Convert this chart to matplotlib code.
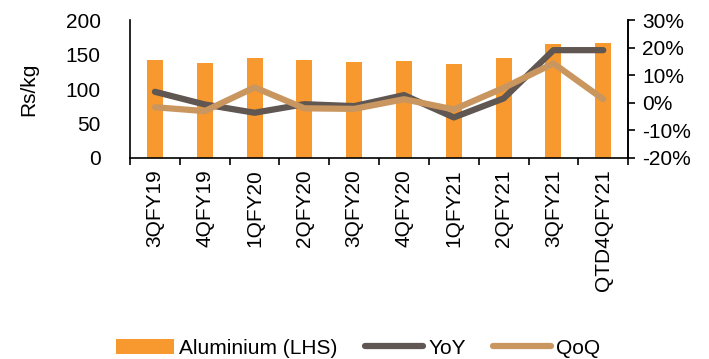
import matplotlib.pyplot as plt
import numpy as np

plt.rcParams['font.family'] = ['Liberation Sans', 'DejaVu Sans']

# Quarterly aluminium price and growth rates
quarters = ['3QFY19', '4QFY19', '1QFY20', '2QFY20', '3QFY20',
            '4QFY20', '1QFY21', '2QFY21', '3QFY21', 'QTD4QFY21']
price = [141.5, 137.7, 145.4, 142.5, 139.0, 140.6, 137.0, 144.5, 166.0, 167.5]
yoy = [4.0, -0.6, -3.6, -0.5, -1.2, 2.8, -5.3, 1.6, 19.1, 19.1]
qoq = [-1.6, -3.0, 5.6, -2.0, -2.2, 1.3, -2.4, 5.4, 14.3, 1.3]

bar_color = '#F7992F'
yoy_color = '#605652'
qoq_color = '#C99660'

fig = plt.figure(figsize=(7.09, 3.59), dpi=100)
ax = fig.add_axes([0.1834, 0.56, 0.7026, 0.384])
ax2 = ax.twinx()

x = np.arange(len(quarters))
ax.bar(x, price, width=0.32, color=bar_color, label='Aluminium (LHS)', zorder=2)
ax2.plot(x, yoy, color=yoy_color, lw=4.5, solid_capstyle='round', label='YoY')
ax2.plot(x, qoq, color=qoq_color, lw=4.5, solid_capstyle='round', label='QoQ')

ax.set_xlim(-0.5, len(quarters) - 0.5)
ax.set_ylim(0, 200)
ax.set_yticks([0, 50, 100, 150, 200])
ax2.set_ylim(-20, 30)
ax2.set_yticks([-20, -10, 0, 10, 20, 30])
ax2.set_yticklabels([f'{v}%' for v in range(-20, 31, 10)])

# category boundaries carry the tick marks, labels sit in between
ax.set_xticks(np.arange(-0.5, len(quarters), 1.0))
ax.set_xticklabels([])
ax.set_xticks(x, minor=True)
ax.set_xticklabels(quarters, minor=True, rotation=90, fontsize=15)
ax.tick_params(axis='x', which='major', length=5, width=1.2, direction='out')
ax.tick_params(axis='x', which='minor', length=0, pad=8)
ax.tick_params(axis='y', length=0, labelsize=15, pad=21)
ax2.tick_params(axis='y', length=5, width=1.2, labelsize=15, pad=5)

for a in (ax, ax2):
    a.spines['top'].set_visible(False)
    for s in a.spines.values():
        s.set_linewidth(1.2)
ax2.spines['left'].set_visible(False)
ax2.spines['bottom'].set_visible(False)

ax.set_ylabel('Rs/kg', fontsize=15, labelpad=20)

h1, l1 = ax.get_legend_handles_labels()
h2, l2 = ax2.get_legend_handles_labels()
fig.legend(h1 + h2, l1 + l2, loc='center', bbox_to_anchor=(0.505, 0.03),
           ncol=3, frameon=False, fontsize=15, handlelength=2.8,
           handletextpad=0.25, columnspacing=1.3)

fig.savefig('out.png', dpi=100)
